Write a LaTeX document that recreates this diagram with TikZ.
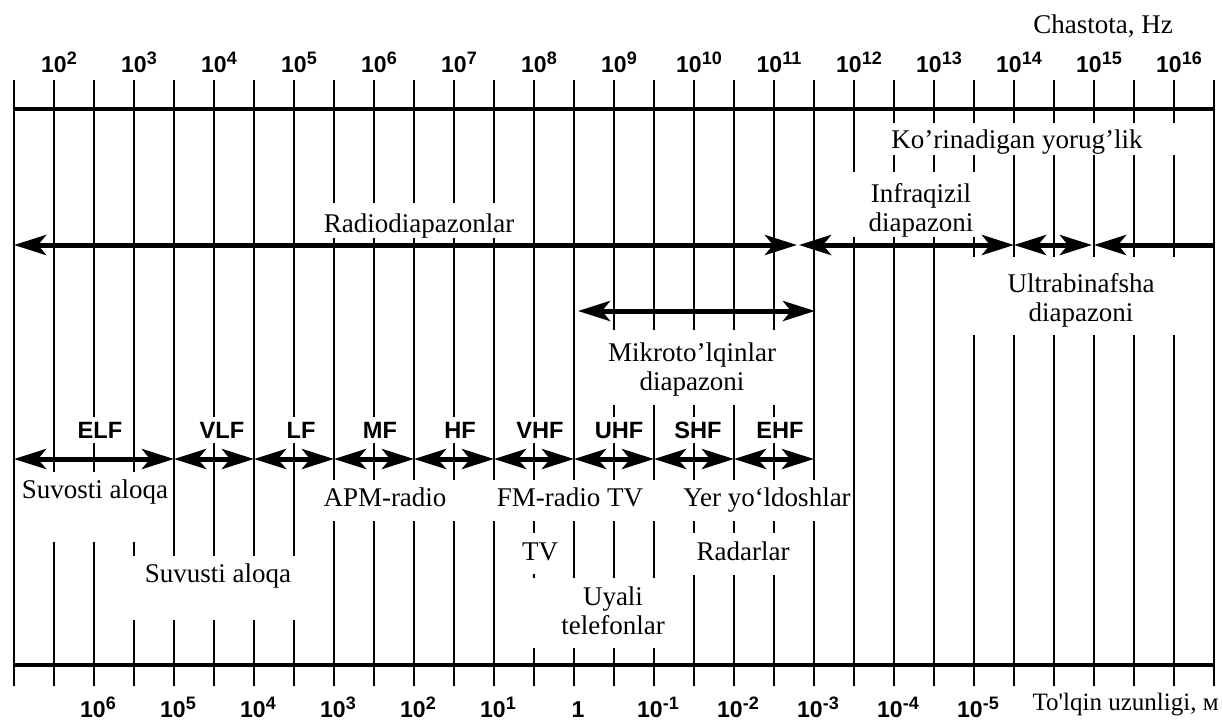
\documentclass[tikz,border=0pt]{standalone}
\usepackage{fontspec}
\setmainfont{Liberation Serif}
\setsansfont{Liberation Sans}
\usetikzlibrary{arrows.meta}

% Puissance de dix pour les graduations
\newcommand{\puiss}[1]{10\raisebox{4pt}{\fontsize{9}{9}\selectfont #1}}

\begin{document}
\begin{tikzpicture}[
    x=0.5pt, y=-0.5pt, % une unité = un pixel, y vers le bas
    grille/.style={line width=1.4pt},
    cadre/.style={line width=1.8pt},
    fleche/.style={line width=2.5pt,
        {Stealth[length=16pt, width=10pt, inset=4pt]}-{Stealth[length=16pt, width=10pt, inset=4pt]}},
    fleche gauche/.style={line width=2.5pt, {Stealth[length=16pt, width=10pt, inset=4pt]}-},
    cache/.style={fill=white}, % rectangles blancs qui coupent la grille
    texte/.style={font=\fontsize{13.5}{14.5}\selectfont, inner sep=0pt, anchor=base},
    texte2/.style={font=\fontsize{13.5}{14.5}\selectfont, inner sep=0pt, align=center},
    echelle/.style={font=\sffamily\bfseries\fontsize{11.5}{12}\selectfont, inner sep=0pt, anchor=base},
    bande/.style={font=\sffamily\bfseries\fontsize{11.8}{12}\selectfont, fill=white, inner sep=2.5pt, anchor=base}
]
\useasboundingbox (0,0) rectangle (1223,720);

% Grille verticale
\foreach \i in {0,...,30} {
    \coordinate (h\i) at ({14+40*\i},80);
    \coordinate (b\i) at ({14+40*\i},686);
    \coordinate (r\i) at ({14+40*\i},459);
    \draw[grille] (h\i) -- (b\i);
}
% Lignes du cadre
\coordinate (cadreHG) at (14,109);
\coordinate (cadreHD) at (1213,109);
\coordinate (cadreBG) at (14,665);
\coordinate (cadreBD) at (1213,665);
\draw[cadre] (cadreHG) -- (cadreHD);
\draw[cadre] (cadreBG) -- (cadreBD);

% Masques blancs
\fill[cache] (318,203) rectangle (520,238);   % radio
\fill[cache] (892,123) rectangle (1177,155);  % visible
\fill[cache] (825,172) rectangle (1010,237);  % infrarouge
\fill[cache] (970,257) rectangle (1178,335);  % ultraviolet
\fill[cache] (585,330) rectangle (810,405);   % micro-ondes
\fill[cache] (17,472) rectangle (171,542);    % sous l'eau
\fill[cache] (131,556) rectangle (303,620);   % surface
\fill[cache] (323,480) rectangle (850,521);   % AM, FM, satellites
\fill[cache] (498,533) rectangle (571,574);   % TV
\fill[cache] (530,578) rectangle (663,648);   % téléphones
\fill[cache] (662,533) rectangle (810,575);   % radars

% Domaines du spectre
\coordinate (radioG) at (14,245);
\coordinate (radioD) at (797,245);
\coordinate (irG) at (799,245);
\coordinate (irD) at (1014,245);
\coordinate (visD) at (1092,245);
\coordinate (uvG) at (1094,245);
\coordinate (uvD) at (1213,245);
\coordinate (mwG) at (578,311);
\coordinate (mwD) at (815,311);
\draw[fleche] (radioG) -- (radioD);
\draw[fleche] (irG) -- (irD);
\draw[fleche] (irD) -- (visD);
\draw[fleche gauche] (uvG) -- (uvD);
\draw[fleche] (mwG) -- (mwD);

% Bandes radio
\foreach \a/\b in {0/4, 4/6, 6/8, 8/10, 10/12, 12/14, 14/16, 16/18, 18/20}
    \draw[fleche] (r\a) -- (r\b);
\foreach \nom/\x in {ELF/100, VLF/222, LF/301, MF/380, HF/460, VHF/540, UHF/619, SHF/698, EHF/780}
    \node[bande] (\nom) at (\x,438) {\nom};

% Graduations
\node[texte] (freq) at (1103,33) {Chastota, Hz};
\foreach \k [evaluate=\k as \i using int(2*\k-3)] in {2,...,16}
    \node[echelle] (f\k) at ({14+40*\i+5},72) {\puiss{\k}};
\foreach \i/\lab in {2/\puiss{6}, 4/\puiss{5}, 6/\puiss{4}, 8/\puiss{3}, 10/\puiss{2}, 12/\puiss{1},
        14/1, 16/\puiss{-1}, 18/\puiss{-2}, 20/\puiss{-3}, 22/\puiss{-4}, 24/\puiss{-5}}
    \node[echelle] (l\i) at ({14+40*\i+4},717) {\lab};
\node[texte, anchor=base east, font=\fontsize{12.5}{14}\selectfont] (lambda) at (1219,710) {To\textquotesingle lqin uzunligi, м};

% Textes
\node[texte] (radio) at (419,232) {Radiodiapazonlar};
\node[texte] (vis) at (1017,148) {Ko’rinadigan yorug’lik};
\node[texte2] (ir) at (921,210) {Infraqizil\\diapazoni};
\node[texte2] (uv) at (1081,300) {Ultrabinafsha\\diapazoni};
\node[texte2] (mw) at (692,369) {Mikroto’lqinlar\\diapazoni};
\node[texte] (suvosti) at (95,498) {Suvosti aloqa};
\node[texte] (suvusti) at (218,582) {Suvusti aloqa};
\node[texte] (am) at (385,506) {APM-radio};
\node[texte] (fm) at (570,506) {FM-radio TV};
\node[texte] (sat) at (767,506) {Yer yo‘ldoshlar};
\node[texte] (tv) at (540,560) {TV};
\node[texte] (radar) at (743,560) {Radarlar};
\node[texte2] (tel) at (613,611) {Uyali\\telefonlar};
\end{tikzpicture}
\end{document}
